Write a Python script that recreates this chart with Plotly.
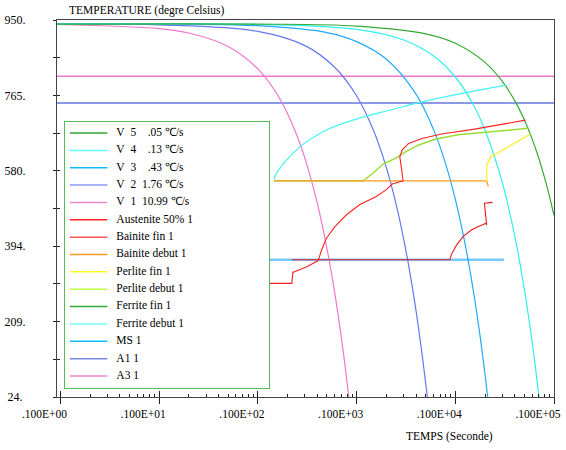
import math
import plotly.graph_objects as go

FONT = "Liberation Serif, Times New Roman, Times, serif"

# ---------------- data ----------------
# cooling curves : time (s) / temperature (degC)
v1_t = [0.0923, 1, 2, 5, 10, 15, 20, 25, 30, 40, 50, 60, 70, 75, 80, 83.3]
v1_T = [939, 929, 918, 885, 830, 775, 720, 665, 610, 500, 390, 281, 171, 116, 61, 24]
v2_t = [0.0923, 1, 10, 30, 60, 100, 150, 200, 250, 300, 350, 400, 450, 480, 500, 521]
v2_T = [940, 938, 922, 887, 834, 764, 676, 588, 500, 412, 324, 236, 148, 95, 60, 24]
v3_t = [0.0923, 10, 50, 100, 200, 400, 600, 800, 1000, 1200, 1400, 1600, 1800, 2000, 2130]
v3_T = [940, 936, 919, 897, 854, 768, 682, 596, 510, 424, 338, 252, 166, 80, 24]
v4_t = [0.0923, 10, 100, 300, 600, 1000, 1500, 2000, 3000, 4000, 5000, 6000, 6500, 7046]
v4_T = [940, 939, 927, 901, 862, 810, 745, 680, 550, 420, 290, 160, 95, 24]
v5_t = [0.0923, 10, 100, 500, 1000, 2000, 3000, 4000, 5000, 6000, 7000, 8000, 9000, 10000]
v5_T = [940, 940, 935, 916, 893, 846, 799, 752, 705, 658, 611, 564, 517, 470]

# transformation curves
aus_t = [1.33, 22.1, 22.6, 31.3, 40.9, 44.2, 49.5, 60.0, 78.5, 107, 157, 197, 230,
         296, 285, 274, 290, 337, 459, 728, 1567, 3373, 5152]
aus_T = [303, 303, 330, 344, 359, 385, 414, 442, 471, 496, 516, 532, 547,
         555, 586, 614, 631, 647, 659, 670, 682, 695, 704]
bfin_t = [22.1, 881, 916, 1028, 1197, 1452, 1690, 2051, 2080, 1972, 2388]
bfin_T = [361, 361, 375, 397, 418, 434, 442, 451, 446, 500, 502]
bdeb_t = [14.6, 2080, 2163]
bdeb_T = [555, 555, 541]
pfin_t = [2080, 2080, 2301, 3126, 4246, 5781]
pfin_T = [555, 594, 614, 632, 650, 670]
pdeb_t = [14.6, 117, 145, 190, 248, 313, 425, 624, 1067, 2301, 5559]
pdeb_T = [555, 555, 573, 598, 610, 626, 643, 657, 668, 676, 684]
fdeb_t = [14.6, 15.7, 26.8, 49.5, 107, 221, 462, 1245, 3273]
fdeb_T = [559, 577, 639, 680, 709, 729, 749, 771, 790]
ms_t = [1.30, 3126]
ms_T = [361, 361]
a1_t = [0.05, 10000]
a1_T = [746, 746]
a3_t = [0.05, 10000]
a3_T = [812, 812]

# legend
legend_labels = [
    "V\u00a0\u00a05\u00a0\u00a0\u00a0\u00a0.05\u00a0\u2103/s",
    "V\u00a0\u00a04\u00a0\u00a0\u00a0\u00a0.13\u00a0\u2103/s",
    "V\u00a0\u00a03\u00a0\u00a0\u00a0\u00a0.43\u00a0\u2103/s",
    "V\u00a0\u00a02\u00a0\u00a01.76\u00a0\u2103/s",
    "V\u00a0\u00a01\u00a0\u00a010.99\u00a0\u2103/s",
    "Austenite 50% 1", "Bainite fin 1", "Bainite debut 1", "Perlite fin 1",
    "Perlite debut 1", "Ferrite fin 1", "Ferrite debut 1", "MS 1", "A1 1", "A3 1",
]
legend_colors = ["#33aa33", "#66ffff", "#11bbff", "#8899ee", "#ee88cc",
                 "#ff2222", "#ff5555", "#ff9922", "#ffff22", "#bbff44",
                 "#33aa33", "#77ffff", "#11bbff", "#7788dd", "#ee88cc"]

# axes ticks
x_range = [0.0923, 10000]
x_tickvals = [0.1, 1, 10, 100, 1000, 10000]
x_ticktext = [".100E+00", ".100E+01", ".100E+02", ".100E+03", ".100E+04", ".100E+05"]
x_minor = [m * d for d in [0.1, 1, 10, 100, 1000] for m in range(2, 10)]
y_range = [24, 950]
y_tickvals = [950, 857.4, 764.8, 672.2, 579.6, 487, 394.4, 301.8, 209.2, 116.6, 24]
y_ticktext = ["950.", "", "765.", "", "580.", "", "394.", "", "209.", "", "24.\u00a0"]

# ---------------- figure ----------------
fig = go.Figure()


def add(t, T, color, width=1.2, shape="linear"):
    fig.add_trace(go.Scatter(x=t, y=T, mode="lines",
                             line=dict(color=color, width=width, shape=shape),
                             showlegend=False, hoverinfo="skip"))


add(a3_t, a3_T, "#ee77cc", 1.5)
add(a1_t, a1_T, "#6677dd", 1.5)
add(ms_t, ms_T, "#77c8ff", 2.5)
add(v1_t, v1_T, "#ee77cc", 1.2, "spline")
add(v2_t, v2_T, "#6677ee", 1.2, "spline")
add(v3_t, v3_T, "#22aaff", 1.2, "spline")
add(v4_t, v4_T, "#33eeee", 1.2, "spline")
add(v5_t, v5_T, "#33aa33", 1.2, "spline")
add(fdeb_t, fdeb_T, "#44f4f4", 1.2, "spline")
add(pdeb_t, pdeb_T, "#99dd33", 1.4)
add(bdeb_t, bdeb_T, "#ff9922", 1.2)
add(pfin_t, pfin_T, "#ffee22", 1.2)
add(aus_t, aus_T, "#ff2222", 1.1)
add(bfin_t, bfin_T, "#e81c1c", 1.1)

# twin axes carriers for the crossing ticks
fig.add_trace(go.Scatter(x=[1], y=[500], xaxis="x2", yaxis="y", mode="markers",
                         marker=dict(opacity=0), showlegend=False, hoverinfo="skip"))
fig.add_trace(go.Scatter(x=[1], y=[500], xaxis="x", yaxis="y2", mode="markers",
                         marker=dict(opacity=0), showlegend=False, hoverinfo="skip"))

# legend panel
for i, c in enumerate(legend_colors):
    fig.add_trace(go.Scatter(x=[0.024, 0.208], y=[i, i], mode="lines",
                             line=dict(color=c, width=1.5), xaxis="x3", yaxis="y3",
                             showlegend=False, hoverinfo="skip"))
fig.add_trace(go.Scatter(x=[0.252] * len(legend_labels), y=list(range(len(legend_labels))),
                         mode="text", text=legend_labels, textposition="middle right",
                         textfont=dict(family=FONT, size=11.5, color="black"),
                         xaxis="x3", yaxis="y3", showlegend=False, hoverinfo="skip"))

axis_common = dict(showgrid=False, zeroline=False)
log_range = [math.log10(v) for v in x_range]

fig.update_layout(
    width=566, height=450,
    margin=dict(l=57, r=5, t=20, b=53),
    paper_bgcolor="white", plot_bgcolor="white",
    showlegend=False,
    font=dict(family=FONT, color="black"),
    xaxis=dict(type="log", range=log_range, tickmode="array", tickvals=x_tickvals,
               ticktext=x_ticktext, ticks="outside", ticklen=6, tickwidth=1,
               tickcolor="#222", showline=True, linecolor="#444", linewidth=1,
               mirror=True, tickfont=dict(family=FONT, size=11.5, color="black"),
               ticklabelshift=-16, ticklabeloverflow="allow",
               minor=dict(tickmode="array", tickvals=x_minor, ticks="inside",
                          ticklen=3, tickcolor="#222", showgrid=False),
               **axis_common),
    xaxis2=dict(type="log", range=log_range, overlaying="x", anchor="y", side="bottom",
                tickmode="array", tickvals=x_tickvals, ticks="inside", ticklen=6,
                tickcolor="#222", showticklabels=False, showline=False, **axis_common),
    yaxis=dict(range=y_range, tickmode="array", tickvals=y_tickvals, ticktext=y_ticktext,
               ticks="outside", ticklen=3, tickcolor="#222", showline=True,
               linecolor="#444", linewidth=1, mirror=True,
               tickfont=dict(family=FONT, size=12, color="black"),
               ticklabelstandoff=25, ticklabeloverflow="allow", **axis_common),
    yaxis2=dict(range=y_range, overlaying="y", anchor="x", side="left",
                tickmode="array", tickvals=y_tickvals, ticks="inside", ticklen=3,
                tickcolor="#222", showticklabels=False, showline=False, **axis_common),
    xaxis3=dict(domain=[0.0159, 0.4266], anchor="y3", range=[0, 1], showline=True,
                mirror=True, linecolor="#55bb55", linewidth=1, ticks="",
                showticklabels=False, **axis_common),
    yaxis3=dict(domain=[0.0239, 0.7294], anchor="x3", range=[14.691, -0.634],
                showline=True, mirror=True, linecolor="#55bb55", linewidth=1, ticks="",
                showticklabels=False, **axis_common),
    annotations=[
        dict(text="TEMPERATURE (degre Celsius)", xref="paper", yref="paper",
             x=0.0198, y=1.0265, xanchor="left", yanchor="middle", showarrow=False,
             font=dict(family=FONT, size=11.5, color="black")),
        dict(text="TEMPS (Seconde)", xref="paper", yref="paper",
             x=0.79, y=-0.106, xanchor="center", yanchor="middle", showarrow=False,
             font=dict(family=FONT, size=11.5, color="black")),
    ],
)

# remove the default 8 px page margin so the figure sits at the window's top-left corner
fig.write_html("out.html",
               config={"displayModeBar": False},
               post_script="document.body.style.margin='0';document.body.style.overflow='hidden';")
